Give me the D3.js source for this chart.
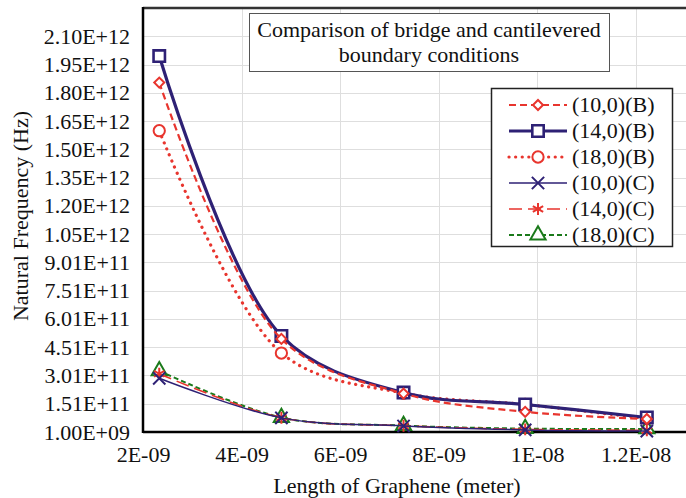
<!DOCTYPE html>
<html>
<head>
<meta charset="utf-8">
<script src="https://cdn.jsdelivr.net/npm/d3@7"></script>
<style>
  body { margin: 0; background: #fff; }
  svg { display: block; font-family: "Liberation Serif", "Times New Roman", serif; }
</style>
</head>
<body>
<svg id="chart" width="686" height="498"></svg>
<script>
// lengths of the graphene sheet (m)
const lengths = [2.33e-9, 4.81e-9, 7.29e-9, 9.76e-9, 12.23e-9];

// natural frequency (Hz)
const bridge10 = [1.855e12, 4.95e11, 2.05e11, 1.08e11, 0.70e11];
const bridge14 = [1.996e12, 5.11e11, 2.10e11, 1.47e11, 0.78e11];
const bridge18 = [1.60e12, 4.20e11, 2.07e11, 1.47e11, 0.72e11];
const cant10 = [2.86e11, 0.76e11, 0.33e11, 0.12e11, 0.06e11];
const cant14 = [3.10e11, 0.77e11, 0.34e11, 0.15e11, 0.10e11];
const cant18 = [3.26e11, 0.78e11, 0.35e11, 0.19e11, 0.17e11];

const seriesNames = ["(10,0)(B)", "(14,0)(B)", "(18,0)(B)", "(10,0)(C)", "(14,0)(C)", "(18,0)(C)"];

const yTicks = [1e9, 1.51e11, 3.01e11, 4.51e11, 6.01e11, 7.51e11, 9.01e11, 1.051e12,
  1.201e12, 1.351e12, 1.501e12, 1.651e12, 1.801e12, 1.951e12, 2.101e12];
const xTicks = [2e-9, 4e-9, 6e-9, 8e-9, 1e-8, 1.2e-8];
const xTickLabels = ["2E-09", "4E-09", "6E-09", "8E-09", "1E-08", "1.2E-08"];

const titleLines = ["Comparison of bridge and cantilevered", "boundary conditions"];

const navy = "#2e2175", red = "#e8352e", green = "#1b7a1b";
const fontSize = 22;

const styles = [
  { color: red, width: 2.2, dash: "7 4", symbol: "diamond", cap: "butt" },
  { color: navy, width: 3.2, dash: null, symbol: "square", cap: "butt" },
  { color: red, width: 3.2, dash: "0.1 6.5", symbol: "circle", cap: "round" },
  { color: navy, width: 1.5, dash: null, symbol: "x", cap: "butt" },
  { color: red, width: 1.6, dash: "13 6", symbol: "asterisk", cap: "butt" },
  { color: green, width: 2, dash: "5 3", symbol: "triangle", cap: "butt" },
];

const allValues = [bridge10, bridge14, bridge18, cant10, cant14, cant18];
const series = seriesNames.map((name, i) => ({ name, values: allValues[i], ...styles[i] }));

// Excel style: 1.51E+11
function sciLabel(v) {
  const [m, e] = v.toExponential(2).split("e");
  return `${m}E${e[0]}${e.slice(1).padStart(2, "0")}`;
}

const svg = d3.select("#chart");
const plotLeft = 143, plotTop = 8, plotBottom = 432;
const step = 98.5;

const x = d3.scaleLinear().domain([2e-9, 1.4e-8]).range([plotLeft, plotLeft + 6 * step]);
const y = d3.scaleLinear().domain([1e9, 1e9 + 15 * 1.5e11]).range([plotBottom, plotTop]);

// grid
const grid = svg.append("g").attr("stroke", "#dedede").attr("stroke-width", 1);
grid.selectAll(".h").data(yTicks).join("line")
  .attr("x1", plotLeft).attr("x2", 686)
  .attr("y1", (d) => Math.round(y(d)) + 0.5).attr("y2", (d) => Math.round(y(d)) + 0.5);
grid.selectAll(".v").data(xTicks.slice(1)).join("line")
  .attr("y1", plotTop).attr("y2", plotBottom)
  .attr("x1", (d) => Math.round(x(d)) + 0.5).attr("x2", (d) => Math.round(x(d)) + 0.5);

// frame
svg.append("line").attr("x1", plotLeft).attr("x2", 686).attr("y1", plotTop).attr("y2", plotTop)
  .attr("stroke", "#333").attr("stroke-width", 2.5);

// axes
const yAxis = svg.append("g").attr("transform", `translate(${plotLeft},0)`)
  .call(d3.axisLeft(y).tickValues(yTicks).tickSize(0).tickPadding(13).tickFormat(sciLabel));
yAxis.select(".domain").remove();
yAxis.selectAll("text").attr("font-size", fontSize).attr("fill", "#111")
  .attr("font-family", "Liberation Serif");

const xAxis = svg.append("g").attr("transform", `translate(0,${plotBottom})`)
  .call(d3.axisBottom(x).tickValues(xTicks).tickSize(0).tickPadding(14)
    .tickFormat((d, i) => xTickLabels[i]));
xAxis.select(".domain").remove();
xAxis.selectAll("text").attr("font-size", fontSize).attr("fill", "#111")
  .attr("font-family", "Liberation Serif");

svg.append("line").attr("x1", plotLeft).attr("x2", plotLeft).attr("y1", plotTop - 1).attr("y2", plotBottom + 1)
  .attr("stroke", "#000").attr("stroke-width", 2.5);
svg.append("line").attr("x1", plotLeft).attr("x2", 686).attr("y1", plotBottom).attr("y2", plotBottom)
  .attr("stroke", "#000").attr("stroke-width", 2.5);

// axis titles
svg.append("text").attr("x", 397).attr("y", 493).attr("text-anchor", "middle")
  .attr("font-size", fontSize).attr("fill", "#111").text("Length of Graphene (meter)");
svg.append("text").attr("transform", "translate(28,216) rotate(-90)").attr("text-anchor", "middle")
  .attr("font-size", fontSize).attr("fill", "#111").text("Natural Frequency (Hz)");

// markers
const symbolTypes = {
  diamond: { type: d3.symbolSquare, size: 50, rotate: 45 },
  square: { type: d3.symbolSquare, size: 130, rotate: 0 },
  circle: { type: d3.symbolCircle, size: 100, rotate: 0 },
  x: { type: d3.symbolX, size: 100, rotate: 0 },
  asterisk: { type: d3.symbolAsterisk, size: 100, rotate: 0 },
  triangle: { type: d3.symbolTriangle, size: 100, rotate: 0 },
};

function drawMarker(g, s, cx, cy) {
  const sym = symbolTypes[s.symbol];
  g.append("path")
    .attr("d", d3.symbol().type(sym.type).size(sym.size)())
    .attr("transform", `translate(${cx},${cy}) rotate(${sym.rotate})`)
    .attr("fill", "#fff")
    .attr("fill-opacity", s.symbol === "x" || s.symbol === "asterisk" ? 0 : 1)
    .attr("stroke", s.color)
    .attr("stroke-width", s.symbol === "square" ? 2.6 : 2);
}

const line = d3.line().x((d, i) => x(lengths[i])).y((d) => y(d)).curve(d3.curveCatmullRom.alpha(0.5));

const plot = svg.append("g");
// draw in reverse so the bridge series end up on top
series.slice().reverse().forEach((s) => {
  plot.append("path")
    .attr("d", line(s.values))
    .attr("fill", "none")
    .attr("stroke", s.color)
    .attr("stroke-width", s.width)
    .attr("stroke-dasharray", s.dash)
    .attr("stroke-linecap", s.cap);
  s.values.forEach((v, i) => drawMarker(plot, s, x(lengths[i]), y(v)));
});

// title box
const tb = svg.append("g");
tb.append("rect").attr("x", 249.5).attr("y", 13.5).attr("width", 360).attr("height", 58)
  .attr("fill", "#fff").attr("stroke", "#555").attr("stroke-width", 1);
tb.selectAll("text").data(titleLines).join("text")
  .attr("x", 429).attr("y", (d, i) => 37 + i * 25).attr("text-anchor", "middle")
  .attr("font-size", fontSize).attr("fill", "#111").text((d) => d);

// legend
const lg = svg.append("g");
lg.append("rect").attr("x", 491.5).attr("y", 88.5).attr("width", 181).attr("height", 158)
  .attr("fill", "#fff").attr("stroke", "#222").attr("stroke-width", 1.5);
series.forEach((s, i) => {
  const cy = 105 + i * 26;
  lg.append("line").attr("x1", 509).attr("x2", 567).attr("y1", cy).attr("y2", cy)
    .attr("stroke", s.color).attr("stroke-width", s.width)
    .attr("stroke-dasharray", s.dash).attr("stroke-linecap", s.cap);
  drawMarker(lg, s, 538, cy);
  lg.append("text").attr("x", 572).attr("y", cy).attr("dy", "0.32em")
    .attr("font-size", fontSize).attr("fill", "#111").text(s.name);
});
</script>
</body>
</html>
